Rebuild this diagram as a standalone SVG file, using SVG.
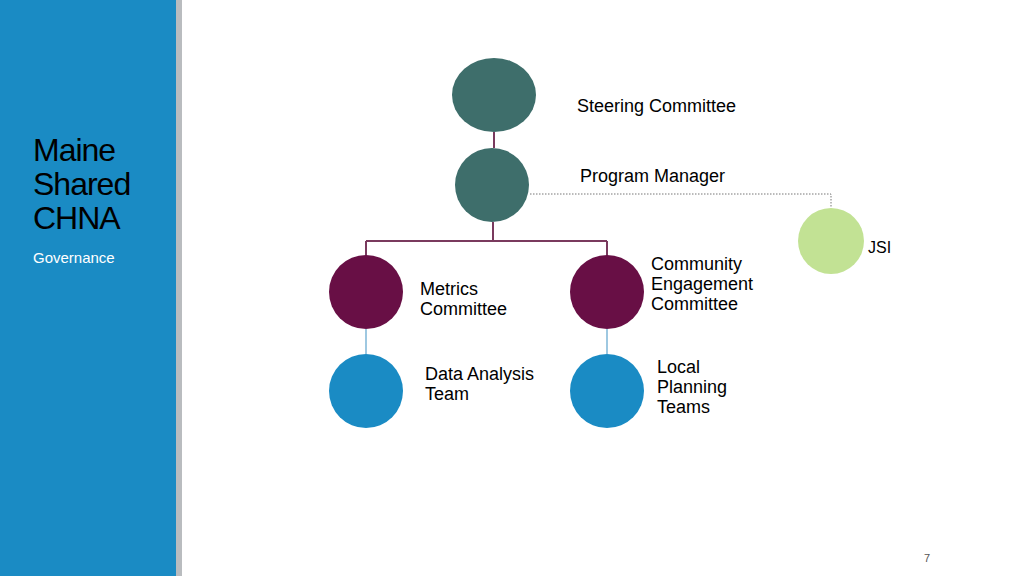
<svg xmlns="http://www.w3.org/2000/svg" width="1024" height="576" viewBox="0 0 1024 576">
<style>
text{font-family:"Liberation Sans",Arial,sans-serif;fill:#000}
.l{font-size:18px}
.t{stroke:#7a3a5e;stroke-width:2;fill:none}
.b{stroke:#7fb6d8;stroke-width:1.5;fill:none}
.teal{fill:#3e6e6b}.plum{fill:#680f45}.blue{fill:#1a8bc4}.green{fill:#c2e294}
</style>
<rect width="1024" height="576" fill="#fff"/>
<rect x="0" y="0" width="176" height="576" fill="#1a8bc4"/>
<rect x="176" y="0" width="6" height="576" fill="#b9bcbf"/>
<text x="33" y="161" style="font-size:32px;letter-spacing:-1px">Maine</text>
<text x="33" y="195" style="font-size:32px;letter-spacing:-1px">Shared</text>
<text x="33" y="229" style="font-size:32px;letter-spacing:-1px">CHNA</text>
<text x="33" y="263" style="font-size:15px;fill:#fff">Governance</text>
<text x="924" y="562" style="font-size:11px;fill:#555">7</text>
<g id="connectors">
<path class="t" d="M494 132V148M493 222V241M366 241H607M366 241V256M607 241V256"/>
<path class="b" d="M366 329V354M607 329V354"/>
<path d="M530 194H831V208" stroke="#777" stroke-width="1" stroke-dasharray="1.5,1.5" fill="none"/>
</g>
<g id="steering"><ellipse class="teal" cx="494" cy="95" rx="42" ry="37"/><text class="l" x="577" y="112">Steering Committee</text></g>
<g id="pm"><ellipse class="teal" cx="492" cy="185" rx="37" ry="37"/><text class="l" x="580" y="182">Program Manager</text></g>
<g id="jsi"><ellipse class="green" cx="831" cy="241" rx="33" ry="33"/><text class="l" x="868" y="253" style="font-size:16px">JSI</text></g>
<g id="metrics"><ellipse class="plum" cx="366" cy="292" rx="37" ry="37"/><text class="l" x="420" y="295">Metrics</text><text class="l" x="420" y="315">Committee</text></g>
<g id="cec"><ellipse class="plum" cx="607" cy="292" rx="37" ry="37"/><text class="l" x="651" y="270">Community</text><text class="l" x="651" y="290">Engagement</text><text class="l" x="651" y="310">Committee</text></g>
<g id="data"><ellipse class="blue" cx="366" cy="391" rx="37" ry="37"/><text class="l" x="425" y="380">Data Analysis</text><text class="l" x="425" y="400">Team</text></g>
<g id="lpt"><ellipse class="blue" cx="607" cy="391" rx="37" ry="37"/><text class="l" x="657" y="373">Local</text><text class="l" x="657" y="393">Planning</text><text class="l" x="657" y="413">Teams</text></g>
</svg>
